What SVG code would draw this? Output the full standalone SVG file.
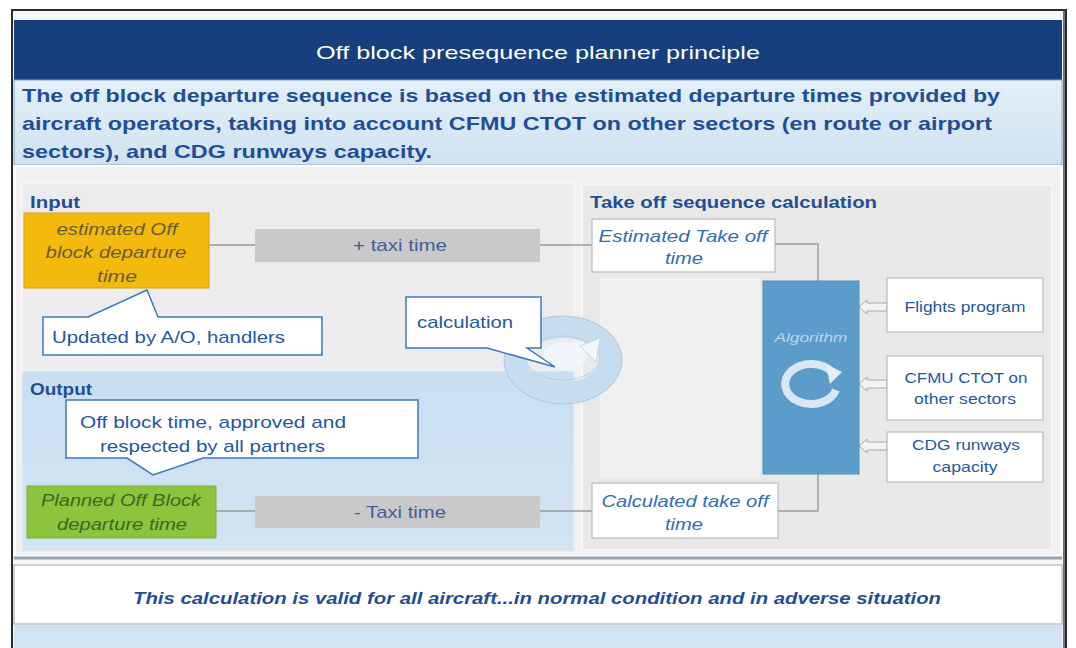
<svg xmlns="http://www.w3.org/2000/svg" width="1076" height="648" viewBox="0 0 1076 648">
<defs>
<style>
text{font-family:"Liberation Sans",Arial,sans-serif}
.lbl{font-weight:bold;font-size:17px;fill:#1f4e96}
.sub{font-weight:bold;font-size:19px;fill:#1f4e96}
.call{font-size:17px;fill:#2457a4}
.box{fill:#ffffff;stroke:#b9b9b9;stroke-width:1.2}
.cbox{fill:#ffffff;stroke:#3d78bd;stroke-width:1.5}
.ital{font-style:italic;font-size:17px;fill:#2f6db5}
.side{font-size:15px;fill:#2457a4}
.bar{fill:#c9c9c9}
.bartxt{font-size:17px;fill:#3f5f96}
.conn{fill:none;stroke:#9a9a9a;stroke-width:1.4}
.harr{fill:#f3f3f3;stroke:#a8a8a8;stroke-width:1}
</style>
<linearGradient id="subg" x1="0" y1="0" x2="0" y2="1">
<stop offset="0" stop-color="#e4eff8"/><stop offset="1" stop-color="#cfe2f1"/>
</linearGradient>
<linearGradient id="outg" x1="0" y1="0" x2="0" y2="1">
<stop offset="0" stop-color="#c9dff1"/><stop offset="1" stop-color="#d3e4f2"/>
</linearGradient>
</defs>
<rect x="0" y="0" width="1076" height="648" fill="#ffffff"/>
<!-- frame -->
<g id="frame">
<rect x="12" y="10" width="1054" height="650" fill="#f4f7fa" stroke="#2b2b2b" stroke-width="2"/>
<rect x="14" y="20" width="1048" height="60" fill="#173f7e"/>
<rect x="14" y="80" width="1048" height="85" fill="url(#subg)" stroke="#8aa6c0" stroke-width="1"/>
<rect x="15" y="166" width="1046" height="390" fill="#f1f1f1" stroke="#ffffff" stroke-width="2"/>
<rect x="22" y="183" width="552" height="188" fill="#ececec" stroke="#f8f8f8" stroke-width="1.5"/>
<rect x="22" y="371" width="552" height="180" fill="url(#outg)" stroke="#e8eef4" stroke-width="1"/>
<rect x="582" y="185" width="470" height="365" fill="#e9e9e9" stroke="#f8f8f8" stroke-width="1.5"/>
<rect x="600" y="278" width="160" height="200" fill="#f0f0f0"/>
<line x1="14" y1="558" x2="1062" y2="558" stroke="#9aa4ae" stroke-width="3"/>
<rect x="14" y="565" width="1048" height="59" fill="#ffffff" stroke="#a3a3a3" stroke-width="1"/>
<rect x="14" y="625" width="1048" height="23" fill="#d2e4f3"/>
<line x1="1064" y1="10" x2="1064" y2="648" stroke="#444" stroke-width="1.5"/>
</g>
<g id="title">
<text x="316" y="59" font-size="19" fill="#ffffff" textLength="444" lengthAdjust="spacingAndGlyphs">Off block presequence planner principle</text>
</g>
<g id="subtitle">
<text class="sub" x="22" y="102" textLength="978" lengthAdjust="spacingAndGlyphs">The off block departure sequence is based on the estimated departure times provided by</text>
<text class="sub" x="22" y="130" textLength="970" lengthAdjust="spacingAndGlyphs">aircraft operators, taking into account CFMU CTOT on other sectors (en route or airport</text>
<text class="sub" x="22" y="158" textLength="410" lengthAdjust="spacingAndGlyphs">sectors), and CDG runways capacity.</text>
</g>
<!-- connectors -->
<g id="connectors">
<line class="conn" x1="209" y1="245" x2="255" y2="245"/>
<line class="conn" x1="540" y1="245" x2="592" y2="245"/>
<polyline class="conn" points="775,244 818,244 818,281"/>
<line class="conn" x1="216" y1="511" x2="255" y2="511"/>
<line class="conn" x1="540" y1="511" x2="592" y2="511"/>
<polyline class="conn" points="778,511 818,511 818,474"/>
<polygon class="harr" points="859,307 867,300 867,303 887,303 887,311 867,311 867,314"/>
<polygon class="harr" points="859,384 867,377 867,380 887,380 887,388 867,388 867,391"/>
<polygon class="harr" points="859,446 867,439 867,442 887,442 887,450 867,450 867,453"/>
</g>
<g id="input-label"><text class="lbl" x="30" y="208" textLength="50" lengthAdjust="spacingAndGlyphs">Input</text></g>
<g id="takeoff-label"><text class="lbl" x="590" y="208" textLength="287" lengthAdjust="spacingAndGlyphs">Take off sequence calculation</text></g>
<g id="output-label"><text class="lbl" x="30" y="395" textLength="62" lengthAdjust="spacingAndGlyphs">Output</text></g>
<g id="eobt">
<rect x="24" y="213" width="185" height="75" fill="#f3b90d" stroke="#d9a20a" stroke-width="1"/>
<g font-style="italic" font-size="17" fill="#6b5b2c" text-anchor="middle">
<text x="117" y="235" textLength="121" lengthAdjust="spacingAndGlyphs">estimated Off</text>
<text x="116" y="258" textLength="141" lengthAdjust="spacingAndGlyphs">block departure</text>
<text x="117" y="282" textLength="40" lengthAdjust="spacingAndGlyphs">time</text>
</g>
</g>
<g id="updated-callout">
<path class="cbox" d="M43,317 H88 L147,290 L158,317 H322 V355 H43 Z"/>
<text class="call" x="52" y="343" textLength="233" lengthAdjust="spacingAndGlyphs">Updated by A/O, handlers</text>
</g>
<g id="plus-taxi">
<rect class="bar" x="255" y="229" width="285" height="33"/>
<text class="bartxt" x="400" y="251" text-anchor="middle" textLength="94" lengthAdjust="spacingAndGlyphs">+ taxi time</text>
</g>
<g id="estimated-takeoff">
<rect class="box" x="592" y="219" width="183" height="53"/>
<text class="ital" x="683" y="242" text-anchor="middle" textLength="169" lengthAdjust="spacingAndGlyphs">Estimated Take off</text>
<text class="ital" x="684" y="264" text-anchor="middle" textLength="38" lengthAdjust="spacingAndGlyphs">time</text>
</g>
<g id="calc-ring">
<ellipse cx="563" cy="360" rx="48" ry="33" fill="none" stroke="#c6ddef" stroke-width="22"/>
<ellipse cx="563" cy="360" rx="59" ry="44" fill="none" stroke="#a9c9e2" stroke-width="1"/>
<ellipse cx="563" cy="358" rx="37" ry="22" fill="none" stroke="#b3cfe6" stroke-width="1"/>
<ellipse cx="565" cy="356" rx="22" ry="14" fill="#f2f6fa"/>
<polygon points="580,346 600,338 596,362" fill="#f4f7fb" stroke="#c3d8ea" stroke-width="1"/>
</g>
<g id="calculation-callout">
<path class="cbox" d="M406,297 H541 V348 H527 L555,367 L487,348 H406 Z"/>
<text class="call" x="417" y="328" textLength="96" lengthAdjust="spacingAndGlyphs">calculation</text>
</g>
<g id="algorithm">
<rect x="763" y="281" width="96" height="193" fill="#5b9ccb" stroke="#4d8fbf" stroke-width="1"/>
<text x="811" y="342" text-anchor="middle" font-style="italic" font-size="12" fill="#bcd6ec" textLength="73" lengthAdjust="spacingAndGlyphs">Algorithm</text>
<path d="M836,390 A26,20 0 1 1 832,372" fill="none" stroke="#e6eff7" stroke-width="8" opacity="0.9"/>
<polygon points="826,364 842,372 830,384" fill="#e6eff7"/>
</g>
<g id="flights-program">
<rect class="box" x="887" y="278" width="156" height="54"/>
<text class="side" x="965" y="312" text-anchor="middle" textLength="121" lengthAdjust="spacingAndGlyphs">Flights program</text>
</g>
<g id="cfmu">
<rect class="box" x="887" y="356" width="156" height="64"/>
<text class="side" x="966" y="383" text-anchor="middle" textLength="123" lengthAdjust="spacingAndGlyphs">CFMU CTOT on</text>
<text class="side" x="965" y="404" text-anchor="middle" textLength="102" lengthAdjust="spacingAndGlyphs">other sectors</text>
</g>
<g id="cdg">
<rect class="box" x="887" y="432" width="156" height="50"/>
<text class="side" x="966" y="450" text-anchor="middle" textLength="108" lengthAdjust="spacingAndGlyphs">CDG runways</text>
<text class="side" x="965" y="472" text-anchor="middle" textLength="65" lengthAdjust="spacingAndGlyphs">capacity</text>
</g>
<g id="output-callout">
<path class="cbox" d="M66,400 H418 V458 H203 L153,475 L127,458 H66 Z"/>
<text class="call" x="80" y="428" textLength="266" lengthAdjust="spacingAndGlyphs">Off  block time, approved and</text>
<text class="call" x="100" y="452" textLength="225" lengthAdjust="spacingAndGlyphs">respected by all partners</text>
</g>
<g id="pobt">
<rect x="27" y="486" width="189" height="52" fill="#8dc33d" stroke="#7aaf30" stroke-width="1"/>
<g font-style="italic" font-size="16" fill="#3a6a1c" text-anchor="middle">
<text x="121" y="506" textLength="160" lengthAdjust="spacingAndGlyphs">Planned Off Block</text>
<text x="122" y="530" textLength="130" lengthAdjust="spacingAndGlyphs">departure time</text>
</g>
</g>
<g id="minus-taxi">
<rect class="bar" x="255" y="496" width="285" height="32"/>
<text class="bartxt" x="400" y="518" text-anchor="middle" textLength="92" lengthAdjust="spacingAndGlyphs">- Taxi time</text>
</g>
<g id="calculated-takeoff">
<rect class="box" x="592" y="483" width="186" height="55"/>
<text class="ital" x="685" y="507" text-anchor="middle" textLength="167" lengthAdjust="spacingAndGlyphs">Calculated take off</text>
<text class="ital" x="684" y="530" text-anchor="middle" textLength="38" lengthAdjust="spacingAndGlyphs">time</text>
</g>
<g id="note">
<text x="133" y="604" font-weight="bold" font-style="italic" font-size="17" fill="#1f4e96" textLength="808" lengthAdjust="spacingAndGlyphs">This calculation is valid for all aircraft...in normal condition and in adverse situation</text>
</g>
</svg>
